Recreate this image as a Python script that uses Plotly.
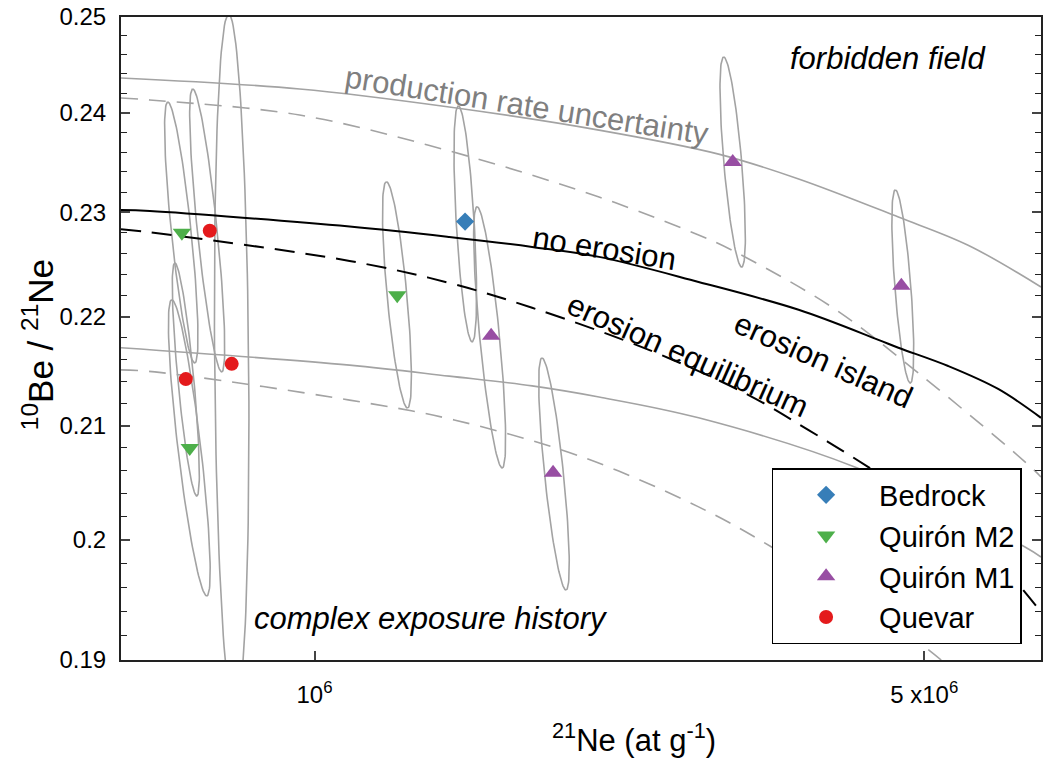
import numpy as np
import plotly.graph_objects as go

# ---------------- data ----------------
bedrock_x = [1.488e6]
bedrock_y = [0.2291]
m2_x = [1.244e6, 7.046e5, 7.194e5]
m2_y = [0.2220, 0.2280, 0.2080]
m1_x = [1.594e6, 1.877e6, 3.016e6, 4.707e6]
m1_y = [0.2182, 0.2058, 0.2350, 0.2229]
quevar_x = [7.584e5, 7.120e5, 8.036e5]
quevar_y = [0.2282, 0.2142, 0.2156]

# error ellipses: top point, bottom point, horizontal half-width at centre (dex)
ell_top_x = [1.462e6, 1.209e6, 6.790e5, 6.862e5, 1.536e6, 1.823e6, 2.945e6, 4.633e6, 7.251e5, 6.917e5, 7.972e5]
ell_top_y = [0.24069, 0.23302, 0.24109, 0.22158, 0.23055, 0.21614, 0.24577, 0.23222, 0.24244, 0.22508, 0.25033]
ell_bot_x = [1.516e6, 1.278e6, 7.289e5, 7.524e5, 1.641e6, 1.942e6, 3.088e6, 4.819e6, 7.826e5, 7.328e5, 8.100e5]
ell_bot_y = [0.21763, 0.21157, 0.21568, 0.19527, 0.20623, 0.19576, 0.22470, 0.21384, 0.21486, 0.20378, 0.18567]
ell_halfw = [0.0103, 0.0114, 0.0114, 0.0132, 0.0114, 0.0109, 0.0103, 0.0092, 0.0114, 0.0092, 0.0195]

# curves
noero_x = [6.000e5, 6.475e5, 1.097e6, 1.427e6, 1.776e6, 2.119e6, 2.756e6, 3.589e6, 4.430e6, 4.670e6, 5.326e6, 6.077e6, 6.805e6]
noero_y = [0.23022, 0.23013, 0.22861, 0.22760, 0.22663, 0.22567, 0.22327, 0.22063, 0.21782, 0.21709, 0.21540, 0.21330, 0.21069]
eq_x = [6.000e5, 6.475e5, 1.097e6, 1.427e6, 1.776e6, 2.417e6, 3.145e6, 3.685e6, 4.315e6, 5.326e6, 6.077e6, 6.805e6]
eq_y = [0.22836, 0.22806, 0.22528, 0.22318, 0.22082, 0.21689, 0.21275, 0.20959, 0.20630, 0.20170, 0.19811, 0.19393]
up_x = [6.000e5, 9.613e5, 1.427e6, 2.119e6, 2.906e6, 3.589e6, 4.670e6, 5.614e6, 6.805e6]
up_y = [0.24358, 0.24244, 0.24058, 0.23822, 0.23579, 0.23330, 0.22954, 0.22680, 0.22279]
upd_x = [6.000e5, 6.475e5, 9.613e5, 1.427e6, 2.119e6, 2.756e6, 3.007e6, 3.914e6, 4.922e6, 6.628e6, 6.805e6]
upd_y = [0.24151, 0.24130, 0.23976, 0.23611, 0.23151, 0.22779, 0.22633, 0.22091, 0.21476, 0.20630, 0.20543]
lo_x = [6.000e5, 1.097e6, 1.427e6, 1.776e6, 2.119e6, 2.756e6, 4.170e6, 6.524e6, 6.805e6]
lo_y = [0.21708, 0.21548, 0.21447, 0.21358, 0.21257, 0.21069, 0.20630, 0.19939, 0.19853]
lod_x = [6.000e5, 6.561e5, 1.097e6, 1.446e6, 2.026e6, 2.756e6, 3.342e6, 4.832e6, 5.229e6]
lod_y = [0.21505, 0.21486, 0.21229, 0.21050, 0.20720, 0.20283, 0.19939, 0.19188, 0.19000]

y_ticks = [0.19, 0.20, 0.21, 0.22, 0.23, 0.24, 0.25]
y_ticktext = ["0.19", "0.2", "0.21", "0.22", "0.23", "0.24", "0.25"]
y_minor = [round(0.19 + 0.002 * i, 3) for i in range(31)]
x_ticks = [1e6, 5e6]
x_ticktext = ["10<sup>6</sup>", "5 x10<sup>6</sup>"]

# ---------------- layout constants ----------------
W, H = 1043, 759
L, R, T, B = 121, 1043, 17, 660
FONT = "Arial, Liberation Sans, sans-serif"
GRAY = "#a3a3a3"


def ppos(px, py):
    return (px - L) / (R - L), (B - py) / (B - T)


fig = go.Figure()

# ellipses
th = np.linspace(0, 2 * np.pi, 121)
for tx, ty, bx, by, w in zip(ell_top_x, ell_top_y, ell_bot_x, ell_bot_y, ell_halfw):
    ut, vt, ub, vb = np.log10(tx), np.log10(ty), np.log10(bx), np.log10(by)
    uc, vc = (ut + ub) / 2, (vt + vb) / 2
    u = uc + (ut - uc) * np.cos(th) + w * np.sin(th)
    v = vc + (vt - vc) * np.cos(th)
    fig.add_trace(go.Scatter(x=10 ** u, y=10 ** v, mode="lines",
                             line=dict(color=GRAY, width=1.6),
                             showlegend=False, hoverinfo="skip"))


def curve(x, y, color, width, dash):
    fig.add_trace(go.Scatter(x=x, y=y, mode="lines", line_shape="spline",
                             line=dict(color=color, width=width, dash=dash),
                             showlegend=False, hoverinfo="skip"))


curve(up_x, up_y, GRAY, 1.6, "solid")
curve(upd_x, upd_y, GRAY, 1.6, "17px,11px")
curve(lo_x, lo_y, GRAY, 1.6, "solid")
curve(lod_x, lod_y, GRAY, 1.6, "17px,11px")
curve(noero_x, noero_y, "black", 2, "solid")
curve(eq_x, eq_y, "black", 2, "20px,11px")

# points
fig.add_trace(go.Scatter(x=bedrock_x, y=bedrock_y, mode="markers", name="Bedrock",
                         legendgroup="a",
                         marker=dict(symbol="diamond", size=14, color="#377eb8")))
fig.add_trace(go.Scatter(x=m2_x, y=m2_y, mode="markers", name="Quirón M2",
                         legendgroup="b",
                         marker=dict(symbol="triangle-down", size=16, color="#4daf4a")))
fig.add_trace(go.Scatter(x=m1_x, y=m1_y, mode="markers", name="Quirón M1",
                         legendgroup="c",
                         marker=dict(symbol="triangle-up", size=16, color="#984ea3")))
fig.add_trace(go.Scatter(x=quevar_x, y=quevar_y, mode="markers", name="Quevar",
                         legendgroup="d",
                         marker=dict(symbol="circle", size=14, color="#e41a1c")))

anns = []


def ann(text, px, py, size, color="black", angle=0, italic=False):
    xp, yp = ppos(px, py)
    anns.append(dict(text=text, x=xp, y=yp, xref="paper", yref="paper",
                     showarrow=False, textangle=angle, xanchor="center", yanchor="middle",
                     font=dict(family=FONT, size=size, color=color,
                               style="italic" if italic else "normal")))


ann("forbidden field", 890, 58, 31, italic=True)
ann("production rate uncertainty", 528, 106, 31, color="#7f7f7f", angle=9)
ann("no erosion", 606, 248, 31, angle=9)
ann("erosion equilibrium", 689, 355, 31, angle=24)
ann("erosion island", 825, 360, 31, angle=24)
ann("complex exposure history", 432, 618, 31, italic=True)
ann("<sup>10</sup>Be / <sup>21</sup>Ne", 38, 345, 35, angle=-90)
ann("<sup>21</sup>Ne (at g<sup>-1</sup>)", 635, 738, 31)

lx, ly = ppos(773, 468)
fig.update_layout(
    width=W, height=H,
    margin=dict(l=L, r=W - R, t=T, b=H - B),
    paper_bgcolor="white", plot_bgcolor="white",
    font=dict(family=FONT, size=24, color="black"),
    annotations=anns,
    showlegend=True,
    legend=dict(x=lx, y=ly, xanchor="left", yanchor="top",
                bordercolor="black", borderwidth=1.5, bgcolor="white",
                font=dict(size=29, family=FONT), traceorder="grouped",
                tracegroupgap=0, itemwidth=96),
    xaxis=dict(type="log", range=[np.log10(6.0e5), np.log10(6.805e6)],
               tickvals=x_ticks, ticktext=x_ticktext, ticks="inside", ticklen=9,
               tickwidth=1.5, showgrid=False, zeroline=False, showline=True,
               linecolor="#222", linewidth=2, mirror=True,
               tickfont=dict(size=24), ticklabelstandoff=12),
    yaxis=dict(type="log", range=[np.log10(0.19), np.log10(0.25)],
               tickvals=y_ticks, ticktext=y_ticktext, ticks="inside", ticklen=9,
               tickwidth=1.5, showgrid=False, zeroline=False, showline=True,
               linecolor="#222", linewidth=2, mirror="ticks",
               tickfont=dict(size=24), ticklabelstandoff=8,
               minor=dict(tickvals=y_minor, ticks="inside", ticklen=6,
                          tickwidth=1.2, tickcolor="#222", showgrid=False)),
)

fig.write_html("out.html", config={"displayModeBar": False},
               post_script="document.body.style.margin='0';"
                           "document.body.style.overflow='hidden';"
                           "var gd=document.getElementById('{plot_id}');"
                           "Plotly.relayout(gd,{width:1043,height:759});")
